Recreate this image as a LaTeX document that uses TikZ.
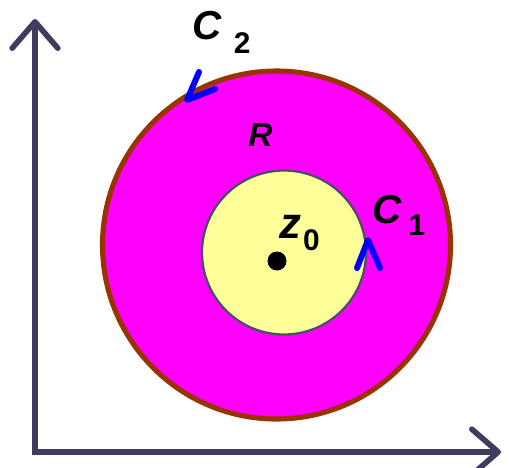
\documentclass[tikz,border=0pt]{standalone}
\usepackage{fontspec}
\setmainfont{Liberation Sans}
\usetikzlibrary{arrows.meta}
\definecolor{axisSlate}{HTML}{3F3D5F}
\definecolor{regionMagenta}{HTML}{FF00FF}
\definecolor{outerBrown}{HTML}{993300}
\definecolor{diskYellow}{HTML}{FFFF99}
\definecolor{innerSlate}{HTML}{4B4E68}
\definecolor{orientBlue}{HTML}{0000FF}
\tikzset{
  axisline/.style={draw=axisSlate, line width=3.2pt, -{Straight Barb[length=15pt,width=26pt,round]}},
  outerring/.style={draw=outerBrown, fill=regionMagenta, line width=2.9pt},
  innerdisk/.style={draw=innerSlate, fill=diskYellow, line width=1.3pt},
  orientmark/.style={draw=orientBlue, line width=3.4pt, line cap=round, line join=round},
  ptdot/.style={circle, fill=black, inner sep=0pt, minimum size=0.38cm},
  mathlabel/.style={anchor=base west, inner sep=0pt, font=\bfseries},
}
\newcommand{\biglabel}[1]{{\fontsize{23pt}{23pt}\selectfont\itshape #1}}
\newcommand{\sublabel}[1]{{\fontsize{17pt}{17pt}\selectfont #1}}

\begin{document}
\begin{tikzpicture}[x=0.02cm,y=-0.02cm]
  \useasboundingbox (0,0) rectangle (509,467);

  % region between the two contours
  \draw[outerring] (276.5,245) circle[radius=174];
  \draw[innerdisk] (284,252.5) circle[radius=82];

  % axes
  \coordinate (origin) at (35,452);
  \coordinate (ytop) at (35,19);
  \coordinate (xend) at (501,452);
  \draw[axisline] ([yshift=-1.6pt]origin) -- (ytop);
  \draw[axisline] (origin) -- (xend);

  % orientation marks
  \draw[orientmark] (199,72) -- (187,100) -- (215,89);
  \draw[orientmark] (357,268) -- (368,240) -- (380,268);

  \node[mathlabel] (c2) at (192,39) {\biglabel{C}\hspace{7pt}\raisebox{-8pt}{\sublabel{2}}};
  \node[mathlabel] (c1) at (372,223) {\biglabel{C}\hspace{4pt}\raisebox{-7pt}{\sublabel{1}}};
  \node[mathlabel] (rlab) at (248,146) {{\fontsize{19pt}{19pt}\selectfont\itshape R}};
  \node[mathlabel] (zlab) at (279,238) {{\fontsize{25pt}{25pt}\selectfont\itshape z}\hspace{1pt}\raisebox{-7pt}{{\fontsize{17pt}{17pt}\selectfont 0}}};

  \node[ptdot] (zpt) at (277,261) {};
\end{tikzpicture}
\end{document}
